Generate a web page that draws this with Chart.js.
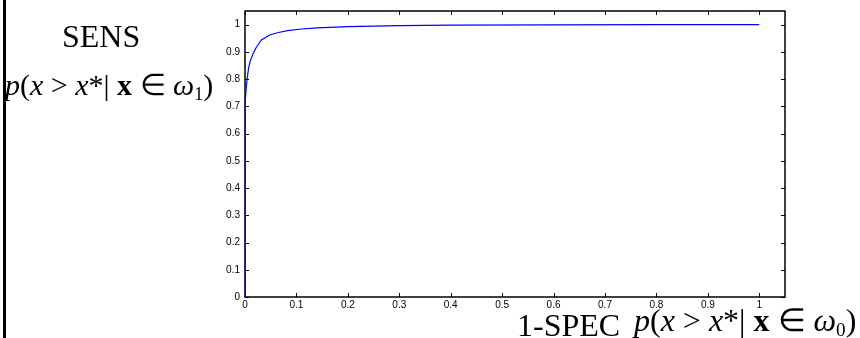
<!DOCTYPE html>
<html>
<head>
<meta charset="utf-8">
<script src="https://cdn.jsdelivr.net/npm/chart.js@4/dist/chart.umd.min.js"></script>
<style>
  html, body { margin: 0; padding: 0; background: #fff; }
  #wrap { position: relative; width: 860px; height: 338px; overflow: hidden; }
  #leftBar { position: absolute; left: 3px; top: 0; width: 3px; height: 338px; background: #000; }
  .lbl { position: absolute; font-family: "Liberation Serif", "Times New Roman", serif; line-height: 1; white-space: nowrap; color: #000; }
  .lbl i { font-style: italic; }
  .lbl b { font-weight: bold; }
  .lbl sub { font-size: 0.6em; vertical-align: -0.25em; line-height: 0; }
</style>
</head>
<body>
<div id="wrap">
  <canvas id="rocChart" width="860" height="338"></canvas>
  <div id="leftBar"></div>
  <div class="lbl" style="left:62px; top:20px; font-size:32px;">SENS</div>
  <div class="lbl" style="left:5px; top:70px; font-size:30px;"><i>p</i>(<i>x</i> &gt; <i>x</i>*| <b>x</b> &isin; <i>&omega;</i><sub>1</sub>)</div>
  <div class="lbl" style="left:517px; top:309px; font-size:32px;">1-SPEC</div>
  <div class="lbl" style="left:634px; top:304px; font-size:32px;"><i>p</i>(<i>x</i> &gt; <i>x</i>*| <b>x</b> &isin; <i>&omega;</i><sub>0</sub>)</div>
</div>
<script>
// ROC curve: 1-SPEC (x) vs SENS (y)
const fprValues = [0, 0, 0.001, 0.002, 0.004, 0.007, 0.010, 0.015, 0.022, 0.032, 0.048, 0.065, 0.083, 0.110, 0.140, 0.200, 0.300, 0.400, 0.600, 0.800, 1.000];
const tprValues = [0, 0.65, 0.72, 0.76, 0.80, 0.84, 0.865, 0.89, 0.917, 0.944, 0.962, 0.971, 0.978, 0.984, 0.988, 0.993, 0.996, 0.998, 0.999, 1.000, 1.000];
const xTicks = [0, 0.1, 0.2, 0.3, 0.4, 0.5, 0.6, 0.7, 0.8, 0.9, 1];
const yTicks = [0, 0.1, 0.2, 0.3, 0.4, 0.5, 0.6, 0.7, 0.8, 0.9, 1];

const rocPoints = fprValues.map((x, i) => ({ x: x, y: tprValues[i] }));

// matlab-style box with inward tick marks on all four sides (drawn under the curve)
const boxTicks = {
    id: "boxTicks",
    beforeDatasetsDraw(chart) {
        const ctx = chart.ctx;
        const a = chart.chartArea;
        const xs = chart.scales.x, ys = chart.scales.y;
        const len = 4;
        ctx.save();
        ctx.strokeStyle = "#000";
        ctx.lineWidth = 1;
        ctx.beginPath();
        xTicks.forEach(v => {
            const px = Math.round(xs.getPixelForValue(v)) + 0.5;
            ctx.moveTo(px, a.bottom); ctx.lineTo(px, a.bottom - len);
            ctx.moveTo(px, a.top); ctx.lineTo(px, a.top + len);
        });
        yTicks.forEach(v => {
            const py = Math.round(ys.getPixelForValue(v)) + 0.5;
            ctx.moveTo(a.left, py); ctx.lineTo(a.left + len, py);
            ctx.moveTo(a.right, py); ctx.lineTo(a.right - len, py);
        });
        ctx.stroke();
        ctx.lineWidth = 1.5;
        ctx.strokeRect(a.left, a.top, a.right - a.left, a.bottom - a.top);
        ctx.restore();
    }
};

const tickFont = { family: "'Liberation Sans', Arial, sans-serif", size: 10 };

new Chart(document.getElementById("rocChart"), {
    type: "scatter",
    data: {
        datasets: [{
            data: rocPoints,
            showLine: true,
            borderColor: "#0000ff",
            borderWidth: 1.2,
            pointRadius: 0,
            fill: false,
            tension: 0,
            clip: 3
        }]
    },
    options: {
        responsive: false,
        animation: false,
        layout: { padding: { left: 0, right: 75, top: 9, bottom: 0 } },
        plugins: {
            legend: { display: false },
            tooltip: { enabled: false }
        },
        scales: {
            x: {
                type: "linear",
                min: 0,
                max: 1.05,
                afterBuildTicks: s => { s.ticks = xTicks.map(v => ({ value: v })); },
                afterFit: s => { s.height = 41; },
                grid: { display: false, drawTicks: false },
                border: { display: false },
                ticks: {
                    color: "#000",
                    font: tickFont,
                    padding: 2,
                    maxRotation: 0,
                    autoSkip: false,
                    callback: v => String(Math.round(v * 10) / 10)
                }
            },
            y: {
                type: "linear",
                min: 0,
                max: 1.05,
                afterBuildTicks: s => { s.ticks = yTicks.map(v => ({ value: v })); },
                afterFit: s => { s.width = 245; },
                grid: { display: false, drawTicks: false },
                border: { display: false },
                ticks: {
                    color: "#000",
                    font: tickFont,
                    padding: 5,
                    autoSkip: false,
                    callback: v => String(Math.round(v * 10) / 10)
                }
            }
        }
    },
    plugins: [boxTicks]
});
</script>
</body>
</html>
